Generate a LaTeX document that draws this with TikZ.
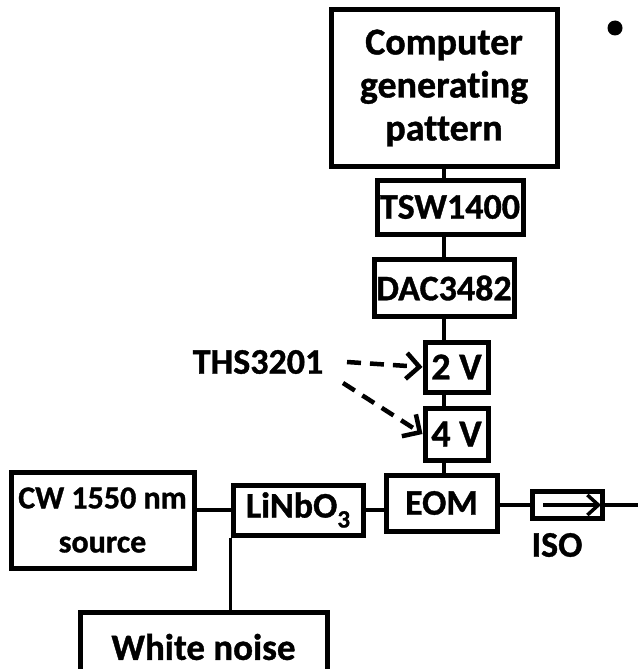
\documentclass[tikz,border=0pt]{standalone}
\usepackage{fontspec}
\setmainfont{Carlito}[Ligatures={NoCommon}, BoldFeatures={FakeBold=1}]
\usetikzlibrary{arrows.meta}
\begin{document}
\begin{tikzpicture}[x=1pt,y=-1pt,
  box/.style={draw, line width=5pt, rectangle, inner sep=0pt, align=center,
              font=\bfseries\fontsize{36}{43}\selectfont},
  conn/.style={line width=3.5pt},
  dasharrow/.style={line width=4.5pt, dash pattern=on 14pt off 9pt,
              -{Straight Barb[length=13pt,width=26pt,line width=4.5pt]}},
  lbl/.style={inner sep=0pt, font=\bfseries\fontsize{36}{43}\selectfont}]
\useasboundingbox (0,0) rectangle (637,669);
% boxes
\node[box, minimum width=226pt, minimum height=156pt, font=\bfseries\fontsize{38}{43}\selectfont] (comp) at (444,88) {Computer\\generating\\pattern};
\node[box, minimum width=146pt, minimum height=54pt] (tsw) at (450,207) {TSW1400};
\node[box, minimum width=140pt, minimum height=57pt] (dac) at (444,288) {DAC3482};
\node[box, minimum width=63pt, minimum height=50pt, font=\bfseries\fontsize{38}{43}\selectfont] (vtwo) at (456.5,367) {2 V};
\node[box, minimum width=63pt, minimum height=52pt, font=\bfseries\fontsize{38}{43}\selectfont] (vfour) at (456.5,434) {4 V};
\node[box, minimum width=111pt, minimum height=56pt] (eom) at (441.5,503) {EOM};
\node[box, minimum width=130pt, minimum height=50pt] (lin) at (298,510) {LiNbO\raisebox{-10pt}{\fontsize{25}{25}\selectfont 3}};
\node[box, minimum width=183pt, minimum height=96pt, font=\bfseries\fontsize{32}{44}\selectfont] (cw) at (102.5,520) {CW 1550 nm\\source};
\node[box, minimum width=247pt, minimum height=70pt, font=\bfseries\fontsize{37}{43}\selectfont] (wn) at (203.5,647) {White noise};
\node[draw, line width=5pt, rectangle, minimum width=70pt, minimum height=27pt, inner sep=0pt] (iso) at (567,505) {};
% labels
\node[lbl] (isolbl) at (557,545) {ISO};
\node[lbl] (ths) at (258,362) {THS3201};
\coordinate (spine) at (444,0);
\coordinate (aone) at (347,362);
\coordinate (atwo) at (343,383);
\coordinate (outend) at (640,505);
\coordinate (isoin) at (543,505);
\coordinate (isoout) at (601,505);
% connectors
\draw[conn] (comp.south -| spine) -- (tsw.north -| spine);
\draw[conn] (tsw.south -| spine) -- (dac.north -| spine);
\draw[conn] (dac.south -| spine) -- (vtwo.north -| spine);
\draw[conn] (vtwo.south -| spine) -- (vfour.north -| spine);
\draw[conn] (vfour.south -| spine) -- (eom.north -| spine);
\draw[conn] (cw.east |- lin.west) -- (lin.west);
\draw[conn] (lin.east) -- (lin.east -| eom.west);
\draw[conn] (lin.south west) -- (lin.south west |- wn.north);
\draw[conn] (iso.west -| eom.east) -- (iso.west);
\draw[conn] (iso.east) -- (outend);
\draw[line width=3.5pt, -{Straight Barb[length=11pt,width=20pt,line width=3.5pt]}] (isoin) -- (isoout);
% dashed arrows
\draw[dasharrow] (aone) -- (vtwo.west);
\draw[dasharrow] (atwo) -- (vfour.west);
% bullet
\fill (615,28) circle (7.5pt);
\end{tikzpicture}
\end{document}
